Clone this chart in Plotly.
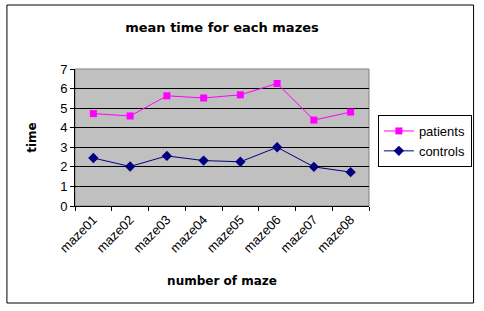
import plotly.graph_objects as go

categories = ["maze01", "maze02", "maze03", "maze04", "maze05", "maze06", "maze07", "maze08"]
patients = [4.72, 4.60, 5.63, 5.52, 5.68, 6.26, 4.39, 4.80]
controls = [2.45, 2.02, 2.56, 2.32, 2.26, 3.00, 2.00, 1.73]

W, H = 484, 311
L, R, T, B = 75, 111, 69, 105
pw, ph = W - L - R, H - T - B

def px(x):
    return (x - L) / pw

def py(y):
    return (H - B - y) / ph

REG = "Arial, Liberation Sans, sans-serif"
BOLD = "DejaVu Sans, Verdana, sans-serif"

fig = go.Figure()
fig.add_trace(go.Scatter(
    x=categories, y=patients, name="patients", mode="lines+markers",
    line=dict(color="#FF00FF", width=1),
    marker=dict(symbol="square", size=7, color="#FF00FF"),
))
fig.add_trace(go.Scatter(
    x=categories, y=controls, name="controls", mode="lines+markers",
    line=dict(color="#000080", width=1),
    marker=dict(symbol="diamond", size=8, color="#000080"),
))

fig.update_layout(
    width=W, height=H,
    margin=dict(l=L, r=R, t=T, b=B),
    paper_bgcolor="white",
    plot_bgcolor="#C0C0C0",
    font=dict(family=REG, size=13, color="black"),
    title=dict(text="<b>mean time for each mazes</b>", x=0.5, xref="paper",
               xanchor="center",
               y=1 - 27 / H, yanchor="middle",
               font=dict(size=13, family=BOLD)),
    xaxis=dict(
        type="category", tickangle=-45, tickson="boundaries",
        ticks="outside", ticklen=4, tickcolor="black",
        showline=True, linecolor="black", linewidth=1,
        showgrid=False, range=[-0.5, 7.5],
        title=dict(text="<b>number of maze</b>", standoff=22,
                   font=dict(size=12, family=BOLD)),
        tickfont=dict(size=13),
    ),
    yaxis=dict(
        range=[0, 7], dtick=1, ticks="outside", ticklen=4, tickcolor="black",
        showline=True, linecolor="black", linewidth=1,
        showgrid=True, gridcolor="black", gridwidth=1,
        zeroline=False,
        title=dict(text="<b>time</b>", standoff=20, font=dict(size=12, family=BOLD)),
        tickfont=dict(size=13),
    ),
    legend=dict(
        x=px(382), y=py(115), xanchor="left", yanchor="top",
        bordercolor="black", borderwidth=1, bgcolor="white",
        font=dict(size=13), itemwidth=30, tracegroupgap=0,
    ),
    showlegend=True,
)

# plot area border (gray)
fig.add_shape(type="rect", xref="paper", yref="paper", x0=0, x1=1, y0=0, y1=1,
              line=dict(color="#808080", width=1), layer="below")
# outer chart border
fig.add_shape(type="rect", xref="paper", yref="paper",
              x0=px(6), x1=px(479), y0=py(303), y1=py(5),
              line=dict(color="black", width=1))

fig.write_html("out.html",
               config={"displayModeBar": False},
               post_script="document.body.style.margin='0';document.body.style.padding='0';document.body.style.overflow='hidden';document.documentElement.style.overflow='hidden';")
